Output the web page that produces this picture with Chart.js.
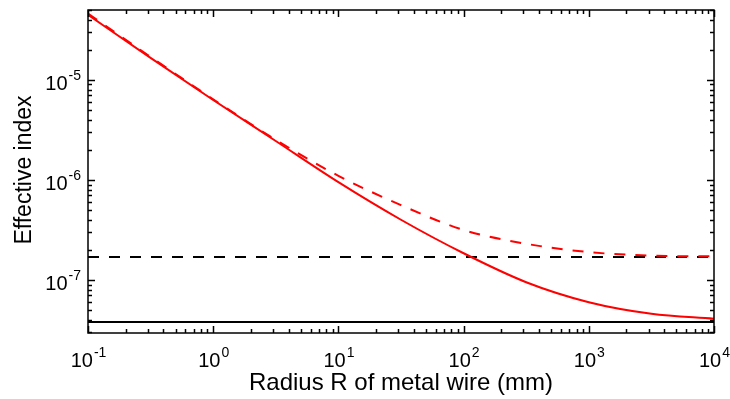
<!DOCTYPE html>
<html>
<head>
<meta charset="utf-8">
<script src="https://cdn.jsdelivr.net/npm/chart.js@4"></script>
<style>
  html, body { margin: 0; padding: 0; background: #fff; }
  #wrap { width: 730px; height: 399px; }
</style>
</head>
<body>
<div id="wrap"><canvas id="indexChart" width="730" height="399"></canvas></div>
<script>
// ==========================================
// DATA
// ==========================================

// radius R of the wire (mm), sampled per half decade
const radius = [0.1, 0.316, 1, 3.16, 10, 31.6, 100, 316, 1000, 3160, 10000];

// effective index, solid red curve
const indexSolid = [4.47e-5, 1.66e-5, 6.3e-6, 2.45e-6, 9.5e-7, 4.0e-7, 1.85e-7, 9.5e-8, 6.0e-8, 4.6e-8, 4.1e-8];

// effective index, dashed red curve
const indexDashed = [4.6e-5, 1.7e-5, 6.4e-6, 2.52e-6, 1.1e-6, 5.6e-7, 3.16e-7, 2.3e-7, 1.9e-7, 1.75e-7, 1.72e-7];

// horizontal reference levels
const levelDashed = 1.7e-7;
const levelSolid = 3.8e-8;

// axis ranges and decade ticks
const xRange = [0.1, 10000];
const yRange = [2.95e-8, 5.0e-5];
const xDecades = [-1, 0, 1, 2, 3, 4];
const yDecades = [-7, -6, -5];

const FONT = "'Liberation Sans', Arial, Helvetica, sans-serif";

// ==========================================
// HELPERS
// ==========================================

function toPoints(xs, ys) {
  return xs.map((x, i) => ({ x: x, y: ys[i] }));
}

function flatLine(value) {
  return [{ x: xRange[0], y: value }, { x: xRange[1], y: value }];
}

function drawPower(ctx, x, y, align, exp) {
  // "10" with a raised exponent
  ctx.font = "20px " + FONT;
  const baseW = ctx.measureText("10").width;
  ctx.font = "14px " + FONT;
  const expW = ctx.measureText(exp).width;
  let left = x;
  if (align === "center") left = x - (baseW + expW) / 2;
  if (align === "right") left = x - baseW - expW;
  ctx.textAlign = "left";
  ctx.textBaseline = "alphabetic";
  ctx.font = "20px " + FONT;
  ctx.fillText("10", left, y);
  ctx.font = "14px " + FONT;
  ctx.fillText(exp, left + baseW + 1, y - 10);
}

// box, inward ticks and labels, all placed through the scales
const axisDecor = {
  id: "axisDecor",
  afterDatasetsDraw(chart) {
    const { ctx, chartArea: a, scales } = chart;
    const xs = scales.x;
    const ys = scales.y;
    ctx.save();
    ctx.strokeStyle = "#000";
    ctx.fillStyle = "#000";
    ctx.lineWidth = 1.5;

    // x ticks (bottom and top)
    xDecades.forEach((e) => {
      for (let m = 1; m <= 9; m++) {
        const v = m * Math.pow(10, e);
        if (v > xRange[1] * 1.0001) break;
        const px = Math.round(xs.getPixelForValue(v)) + 0.5;
        const len = m === 1 ? 7 : 4;
        ctx.beginPath();
        ctx.moveTo(px, a.bottom);
        ctx.lineTo(px, a.bottom - len);
        ctx.moveTo(px, a.top);
        ctx.lineTo(px, a.top + len);
        ctx.stroke();
      }
    });

    // y ticks (left and right)
    for (let e = -8; e <= -5; e++) {
      for (let m = 1; m <= 9; m++) {
        const v = m * Math.pow(10, e);
        if (v < yRange[0] || v > yRange[1]) continue;
        const py = Math.round(ys.getPixelForValue(v)) + 0.5;
        const len = m === 1 ? 7 : 4;
        ctx.beginPath();
        ctx.moveTo(a.left, py);
        ctx.lineTo(a.left + len, py);
        ctx.moveTo(a.right, py);
        ctx.lineTo(a.right - len, py);
        ctx.stroke();
      }
    }

    // frame
    ctx.strokeRect(a.left, a.top, a.right - a.left, a.bottom - a.top);

    // tick labels
    xDecades.forEach((e) => {
      const px = xs.getPixelForValue(Math.pow(10, e));
      drawPower(ctx, px, a.bottom + 34, "center", String(e));
    });
    yDecades.forEach((e) => {
      const py = ys.getPixelForValue(Math.pow(10, e));
      drawPower(ctx, a.left - 8, py + 10, "right", String(e));
    });

    // axis titles
    ctx.textAlign = "center";
    ctx.textBaseline = "middle";
    ctx.font = "24px " + FONT;
    ctx.fillText("Radius R of metal wire (mm)", (a.left + a.right) / 2, 383);
    ctx.font = "23px " + FONT;
    ctx.translate(25, 170);
    ctx.rotate(-Math.PI / 2);
    ctx.fillText("Effective index", 0, 0);
    ctx.restore();
  },
};

// ==========================================
// CHART
// ==========================================

function initChart() {
  const ctx = document.getElementById("indexChart");

  new Chart(ctx.getContext("2d"), {
    type: "line",
    data: {
      datasets: [
        {
          label: "solid",
          data: toPoints(radius, indexSolid),
          borderColor: "#ff0000",
          borderWidth: 2,
          cubicInterpolationMode: "monotone",
        },
        {
          label: "dashed",
          data: toPoints(radius, indexDashed),
          borderColor: "#ff0000",
          borderWidth: 2,
          borderDash: [11, 10],
          cubicInterpolationMode: "monotone",
        },
        {
          label: "level dashed",
          data: flatLine(levelDashed),
          borderColor: "#000000",
          borderWidth: 2,
          borderDash: [11, 10],
        },
        {
          label: "level solid",
          data: flatLine(levelSolid),
          borderColor: "#000000",
          borderWidth: 2,
        },
      ],
    },
    options: {
      responsive: false,
      animation: false,
      events: [],
      layout: { padding: { left: 88, right: 16, top: 10, bottom: 66 } },
      elements: { point: { radius: 0 } },
      plugins: {
        legend: { display: false },
        tooltip: { enabled: false },
      },
      scales: {
        x: { type: "logarithmic", min: xRange[0], max: xRange[1], display: false },
        y: { type: "logarithmic", min: yRange[0], max: yRange[1], display: false },
      },
    },
    plugins: [axisDecor],
  });
}

initChart();
</script>
</body>
</html>
